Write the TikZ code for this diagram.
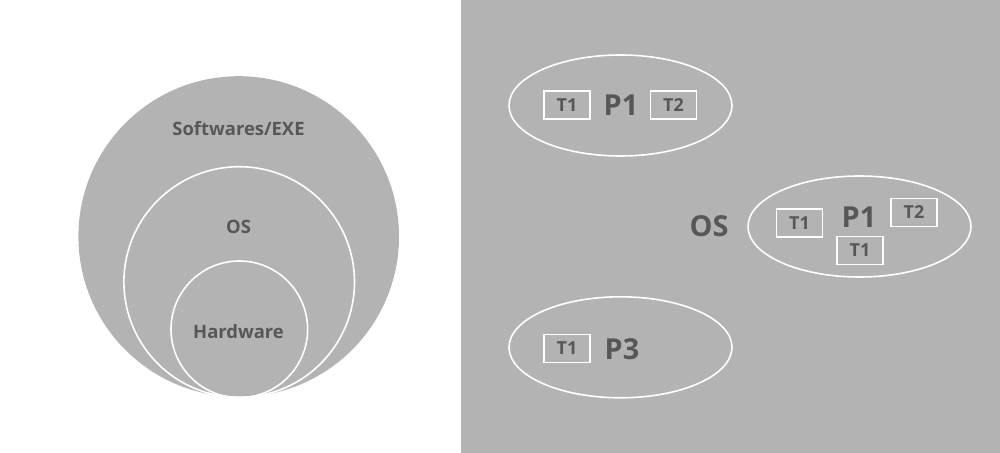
\documentclass[tikz,border=0pt]{standalone}
\usepackage{fontspec}
\setmainfont{Open Sans}
\usetikzlibrary{shapes.geometric}
\definecolor{panel}{HTML}{B3B3B3}
\definecolor{ink}{HTML}{575757}
\begin{document}
\begin{tikzpicture}[x=1bp,y=-1bp,font=\bfseries,text=ink]
\tikzstyle{ring}=[draw=white,line width=1.6bp]
\tikzstyle{layer}=[font=\fontsize{18.5}{20}\selectfont\bfseries]
\tikzstyle{proc}=[ring,ellipse,minimum width=223bp,minimum height=101bp,inner sep=0pt]
\tikzstyle{thread}=[draw=white,line width=1.4bp,minimum width=46bp,minimum height=28bp,inner sep=0pt,font=\fontsize{18}{19}\selectfont\bfseries]
\tikzstyle{pname}=[font=\fontsize{29}{30}\selectfont\bfseries]
\useasboundingbox (0,0) rectangle (1000,453);
% left: layers
\fill[panel] (238.7,236.5) circle (160.3bp);
\draw[ring] (239.2,282) circle (115.3bp);
\draw[ring] (239.3,329.3) circle (68.3bp);
\node[layer] (sw) at (238.5,128.5) {Softwares/EXE};
\node[layer] (os) at (238.5,226.5) {OS};
\node[layer] (hw) at (238.5,331.5) {Hardware};
% right: processes
\fill[panel] (461,0) rectangle (1000,453);
\node[pname] (sys) at (709,226) {OS};
\node[proc] (procA) at (620.5,105.5) {};
\node[thread] (a1) at (567,105) {T1};
\node[pname] (pa) at (621,105) {P1};
\node[thread] (a2) at (673.5,105) {T2};
\node[proc] (procB) at (859.5,226.5) {};
\node[thread] (b1) at (799.5,223) {T1};
\node[pname] (pb) at (859,217) {P1};
\node[thread] (b2) at (914,212.5) {T2};
\node[thread] (b3) at (860,250.5) {T1};
\node[proc] (procC) at (620.5,347.3) {};
\node[thread] (c1) at (567,348.5) {T1};
\node[pname] (pc) at (622,349) {P3};
\end{tikzpicture}
\end{document}
